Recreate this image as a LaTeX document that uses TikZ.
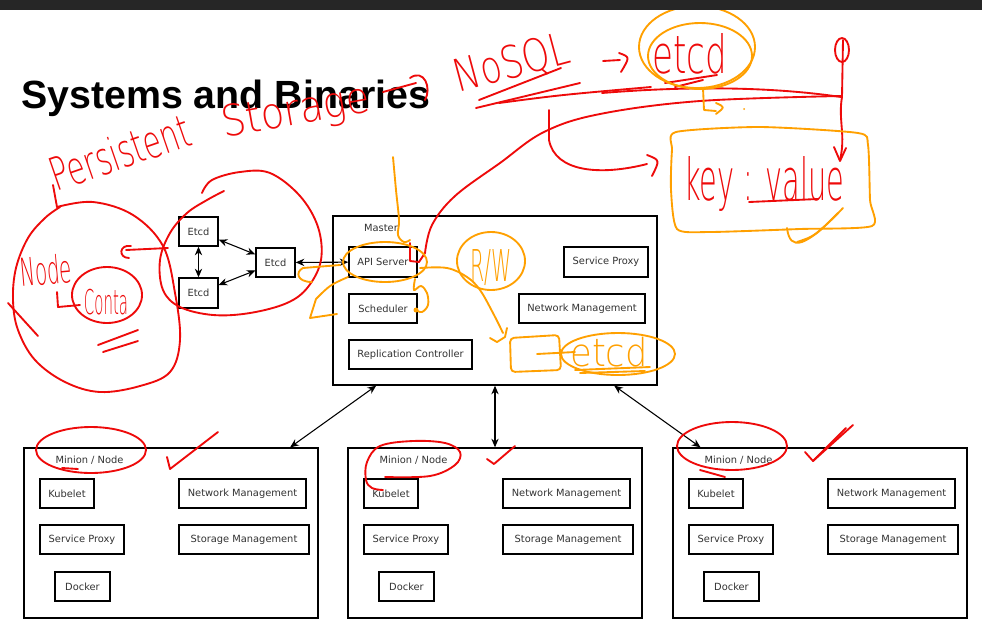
\documentclass[tikz,border=0pt]{standalone}
\usepackage{fontspec}
\usepackage{graphicx}
\setmainfont{DejaVu Sans}
\newfontfamily\boxfont{DejaVu Sans}
\newfontfamily\titlefont{Liberation Sans}
\newfontfamily\handfont{DejaVuSans-ExtraLight.ttf}
\usetikzlibrary{arrows.meta}
\definecolor{hlred}{RGB}{238,10,10}
\definecolor{hlorange}{RGB}{255,160,0}
\definecolor{barcol}{RGB}{38,38,38}
\definecolor{boxtext}{RGB}{50,50,50}
\newcommand\handtxt[3]{\resizebox{#1pt}{#2pt}{\handfont #3}}
\begin{document}
\begin{tikzpicture}[x=0.75pt,y=-0.75pt,
  box/.style={draw=black,line width=1pt,fill=white,inner sep=0pt,text=boxtext,font=\boxfont\fontsize{7.4}{8}\selectfont},
  bx/.style n args={2}{box,minimum width=#1*0.75pt,minimum height=#2*0.75pt},
  lbl/.style={inner sep=0pt,text=boxtext,font=\boxfont\fontsize{7.4}{8}\selectfont},
  link/.style={{Stealth[length=6.5pt,width=5.5pt]}-{Stealth[length=6.5pt,width=5.5pt]},line width=0.8pt},
  rd/.style={draw=hlred,line width=1.4pt,line cap=round,line join=round},
  og/.style={draw=hlorange,line width=1.4pt,line cap=round,line join=round},
  hwred/.style={text=hlred,inner sep=0pt},
  hworange/.style={text=hlorange,inner sep=0pt}]
\useasboundingbox (0,0) rectangle (982,622);
\fill[white] (0,0) rectangle (982,622);

% ---------- title ----------
\node[anchor=base west,inner sep=0pt,font=\titlefont\bfseries\fontsize{29.5}{32}\selectfont] (title) at (21,108) {Systems and Binaries};

% ---------- etcd cluster ----------
\node[bx={39}{29}] (etcd1) at (198.5,231.5) {Etcd};
\node[bx={39}{30}] (etcd2) at (198.5,293) {Etcd};
\node[bx={39}{29}] (etcd3) at (275.5,262.5) {Etcd};

% ---------- master ----------
\node[bx={324}{169}] (master) at (495,300.5) {};
\node[lbl] (masterlbl) at (381,228) {Master};
\node[bx={68}{30}] (api) at (383,262) {API Server};
\node[bx={68}{29}] (sched) at (383,308.5) {Scheduler};
\node[bx={123}{29}] (repl) at (410.5,354.5) {Replication Controller};
\node[bx={84}{30}] (msp) at (606,262) {Service Proxy};
\node[bx={126}{29}] (mnm) at (582,308.5) {Network Management};

% ---------- minions ----------
\foreach \o/\s in {0/a,324/b,649/c}{
  \node[bx={294}{170}] (min\s) at (171+\o,533) {};
  \node[lbl] (minlbl\s) at (89.5+\o,460) {Minion / Node};
  \node[bx={54}{29}] (kub\s) at (67+\o,493.5) {Kubelet};
  \node[bx={84}{29}] (sp\s) at (82+\o,539.5) {Service Proxy};
  \node[bx={55}{29}] (dock\s) at (82.5+\o,586.5) {Docker};
  \node[bx={127}{29}] (nm\s) at (242.5+\o,493.5) {Network Management};
  \node[bx={130}{29}] (sm\s) at (244+\o,539.5) {Storage Management};
}

% ---------- connectors ----------
\draw[link] (etcd1) -- (etcd2);
\draw[link] (etcd1) -- (etcd3);
\draw[link] (etcd2) -- (etcd3);
\draw[link] (etcd3) -- (api);
\draw[link] (master) -- (mina);
\draw[link] (master) -- (minb);
\draw[link] (master) -- (minc);

% ---------- red annotations ----------
\node[hwred,rotate=19] (hwpersist) at (120,152) {\handtxt{109}{26}{Persistent}};
\node[hwred,rotate=10] (hwstorage) at (296,113) {\handtxt{112}{24}{Storage}};
\draw[rd] (383,92) -- (416,83);
\draw[rd] (410,78) .. controls (424,68) and (432,88) .. (425,100);
\node[hwred,rotate=15] (hwnosql) at (512,64) {\handtxt{88}{25}{NoSQL}};
\draw[rd] (479,100) -- (561,68);
\draw[rd] (476,108) -- (580,83);
\draw[rd] (499,103) .. controls (560,95) .. (651,87);
\draw[rd] (603,61) -- (620,60);
\draw[rd] (619,53) .. controls (630,57) .. (621,72);
\node[hwred] (hwetcd) at (690,54) {\handtxt{56}{30}{etcd}};
\draw[rd] (665,83) -- (717,75);
\draw[rd] (675,87) -- (703,80);
\draw[rd] (602,93) .. controls (700,85) and (780,88) .. (841,97);
\draw[rd] (410,243) -- (410,261) -- (419,262) -- (425,253);
\draw[rd] plot[smooth,tension=0.6] coordinates {(425,253) (432,225) (455,196) (500,163) (544,132) (600,114) (700,101) (841,96)};
\draw[rd] (842,50) ellipse [x radius=7, y radius=12];
\draw[rd] (843,40) -- (842,97) .. controls (838,120) and (846,135) .. (840,160);
\draw[rd] (834,147) -- (840,161) -- (846,148);
\node[hwred] (hwkv) at (764,184) {\handtxt{120}{33}{key : value}};
\draw[rd] (749,202) -- (818,199);
\draw[rd] (549,110) -- (549,140) .. controls (555,172) and (600,176) .. (647,164);
\draw[rd] (647,155) .. controls (660,160) .. (652,176);

% node / container
\node[hwred,rotate=5] (hwnode) at (46,270) {\handtxt{39}{22}{Node}};
\draw[rd] (57,292) -- (58,307) -- (80,305);
\node[hwred] (hwconta) at (106,302) {\handtxt{33}{19}{Conta}};
\draw[rd] (107,295) ellipse [x radius=35, y radius=28];
\draw[rd] (98,345) -- (138,330);
\draw[rd] (103,352) -- (138,341);
\draw[rd] (53,185) -- (57,207);
\draw[rd] plot[smooth,tension=0.6] coordinates {(57,207) (93,202) (133,215) (163,246) (175,293) (180,340) (170,372) (140,386) (100,392) (65,382) (35,360) (18,330) (13,300) (16,268) (28,238) (45,218) (60,207)};
\draw[rd] (8,303) -- (38,336);
\draw[rd] plot[smooth,tension=0.6] coordinates {(202,193) (212,180) (240,172) (270,173) (300,196) (318,227) (321,260) (308,287) (287,303) (250,313) (213,315) (180,307) (163,290) (160,260) (170,233) (187,213) (207,200) (224,191)};
\draw[rd] (131,246) .. controls (119,244) and (118,258) .. (129,258);
\draw[rd] (126,250) -- (168,248);

% minion highlights
\draw[rd] (91,450) ellipse [x radius=55, y radius=23];
\draw[rd] (62,468) -- (78,469);
\draw[rd] (167,457) -- (170,469) -- (218,432);
\draw[rd] plot[smooth,tension=0.6] coordinates {(385,477) (430,476) (455,465) (460,452) (445,443) (413,441) (380,446) (367,462) (366,480) (372,488) (383,490)};
\draw[rd] (487,459) -- (494,464) -- (515,446);
\draw[rd] (732,446) ellipse [x radius=55, y radius=24];
\draw[rd] (700,470) -- (725,477);
\draw[rd] (805,452) -- (813,461) -- (853,425);
\draw[rd] (813,461) -- (846,428);

% ---------- orange annotations ----------
\draw[og] (697,47) ellipse [x radius=58, y radius=41];
\draw[og] (700,56) ellipse [x radius=52, y radius=33];
\draw[og] (703,88) -- (704,110) -- (716,111);
\draw[og] (716,103) .. controls (725,107) .. (716,114);
\fill[hlorange] (744,109) circle [radius=1];
\draw[og] plot[smooth cycle,tension=0.4] coordinates {(676,132) (760,127) (858,133) (868,145) (870,200) (872,226) (800,229) (710,232) (677,229) (671,190) (672,150)};
\draw[og] (787,228) .. controls (790,252) and (805,248) .. (843,208);
\draw[og] (797,242) .. controls (815,236) .. (838,213);

\draw[og] plot[smooth,tension=0.6] coordinates {(393,157) (396,190) (399,220) (398,235) (404,242) (410,240)};
\draw[og] (385,262) ellipse [x radius=42, y radius=20];
\draw[og] (348,277) .. controls (330,285) .. (316,299) -- (310,318) -- (337,314);
\draw[og] (340,265) -- (303,268) .. controls (295,272) and (297,282) .. (312,282);
\draw[og] plot[smooth,tension=0.6] coordinates {(415,279) (414,290) (421,286) (427,293) (428,305) (422,312) (416,310)};
\fill[hlorange] (416,310) circle [radius=2.5];
\draw[og] plot[smooth,tension=0.6] coordinates {(420,268) (447,268) (467,277) (480,290) (493,313) (503,333)};
\draw[og] (490,338) -- (497,342) -- (505,337) -- (507,328);
\node[hworange] (hwrw) at (491,268) {\handtxt{31}{24}{R/W}};
\draw[og] (491,261) ellipse [x radius=34, y radius=29];
\draw[og,rounded corners=3pt] (510,338) -- (559,335) -- (561,370) -- (511,372) -- cycle;
\draw[og] (537,354) -- (575,352);
\node[hworange] (hwetcd2) at (609,352) {\handtxt{58}{22}{etcd}};
\draw[og] (618,354) ellipse [x radius=57, y radius=21];
\draw[og] (575,370) -- (650,367);
\draw[og] (580,373) -- (645,371);

% ---------- top bar ----------
\fill[barcol] (0,0) rectangle (982,10);
\end{tikzpicture}
\end{document}
